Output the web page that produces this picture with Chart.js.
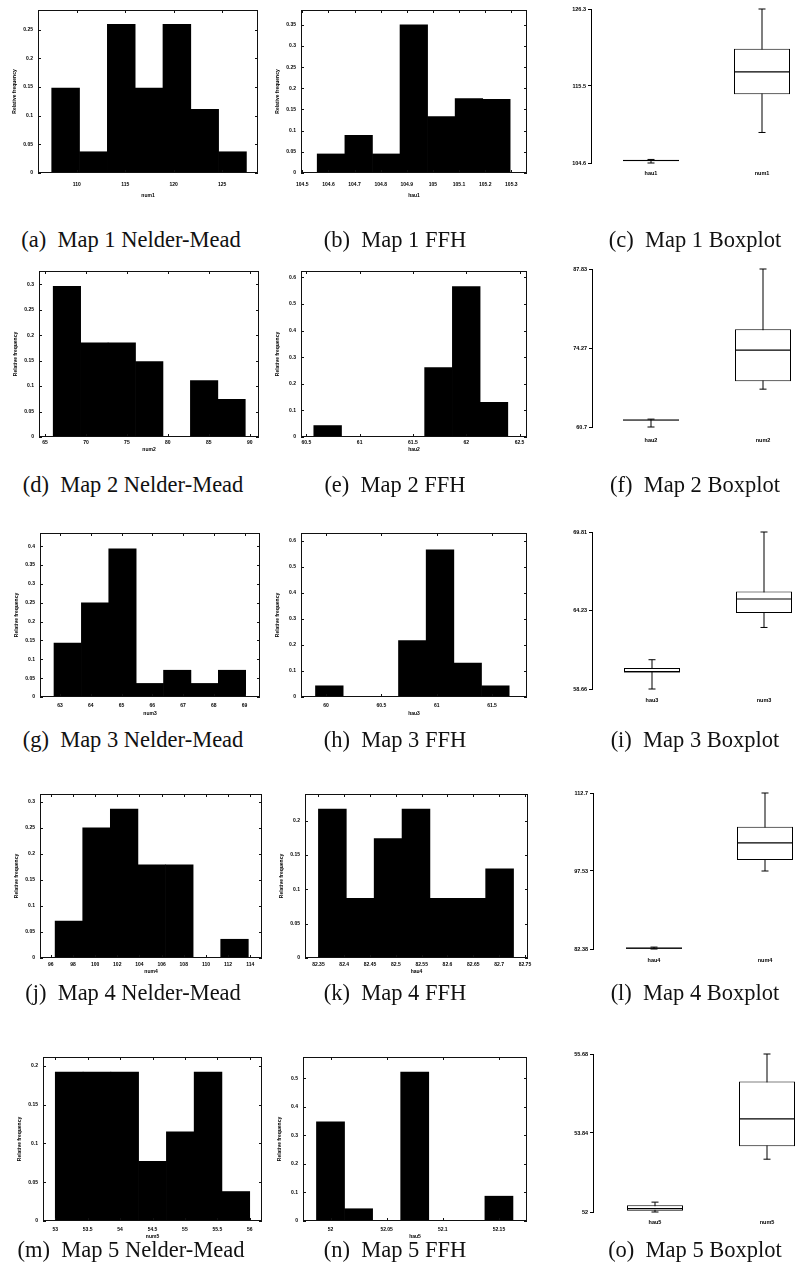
<!DOCTYPE html>
<html>
<head>
<meta charset="utf-8">
<script src="https://cdn.jsdelivr.net/npm/chart.js@4.4.1/dist/chart.umd.min.js"></script>
<style>
  html, body { margin: 0; padding: 0; background: #fff; overflow: hidden; }
  #page { position: relative; width: 795px; height: 1280px; overflow: hidden; background: #fff; }
  canvas { position: absolute; }
  .cap { position: absolute; width: 300px; text-align: center; font: 22.5px "Liberation Serif", "Times New Roman", serif; color: #111; white-space: pre; line-height: 24px; }
</style>
</head>
<body>
<div id="page"></div>
<script>
// ---------- values ----------

// (a) Map 1 Nelder-Mead
const nm1Bins = [108.85, 111.72, 114.59, 117.46, 120.33, 123.20, 126.07];
const nm1Freq = [0.148, 0.037, 0.259, 0.148, 0.259, 0.111, 0.037];
const nm1XTicks = [110, 115, 120, 125];
const nm1YTicks = [0, 0.05, 0.1, 0.15, 0.2, 0.25];
// (b) Map 1 FFH
const hau1Bins = [104.610, 104.716, 104.821, 104.927, 105.032, 105.138, 105.243];
const hau1Freq = [0.045, 0.089, 0.045, 0.35, 0.133, 0.176, 0.174];
const hau1XTicks = [104.5, 104.6, 104.7, 104.8, 104.9, 105, 105.1, 105.2, 105.3];
const hau1YTicks = [0, 0.05, 0.1, 0.15, 0.2, 0.25, 0.3, 0.35];
// (c) Map 1 Boxplot
const box1Names = ['hau1', 'num1'];
const box1Min = [104.6, 108.9];
const box1Q1 = [104.85, 114.3];
const box1Med = [104.95, 117.45];
const box1Q3 = [105.05, 120.7];
const box1Max = [105.1, 126.3];
const box1YTicks = [104.6, 115.45, 126.3];
const box1YLabels = ['104.6', '115.5', '126.3'];

// (d) Map 2 Nelder-Mead
const nm2Bins = [67.68, 71.03, 74.38, 77.73, 81.08, 84.43, 87.78];
const nm2Freq = [0.296, 0.185, 0.185, 0.148, 0, 0.111, 0.074];
const nm2XTicks = [65, 70, 75, 80, 85, 90];
const nm2YTicks = [0, 0.05, 0.1, 0.15, 0.2, 0.25, 0.3];
// (e) Map 2 FFH
const hau2Bins = [60.70, 60.96, 61.22, 61.48, 61.74, 62.00, 62.26];
const hau2Freq = [0.043, 0, 0, 0, 0.261, 0.565, 0.130];
const hau2XTicks = [60.5, 61, 61.5, 62, 62.5];
const hau2YTicks = [0, 0.1, 0.2, 0.3, 0.4, 0.5, 0.6];
// (f) Map 2 Boxplot
const box2Names = ['hau2', 'num2'];
const box2Min = [60.7, 67.2];
const box2Q1 = [61.8, 68.55];
const box2Med = [61.9, 73.9];
const box2Q3 = [61.95, 77.5];
const box2Max = [62.05, 87.83];
const box2YTicks = [60.7, 74.265, 87.83];
const box2YLabels = ['60.7', '74.27', '87.83'];

// (g) Map 3 Nelder-Mead
const nm3Bins = [63.25, 64.14, 65.03, 65.92, 66.81, 67.70, 68.59];
const nm3Freq = [0.143, 0.25, 0.393, 0.036, 0.071, 0.036, 0.071];
const nm3XTicks = [63, 64, 65, 66, 67, 68, 69];
const nm3YTicks = [0, 0.05, 0.1, 0.15, 0.2, 0.25, 0.3, 0.35, 0.4];
// (h) Map 3 FFH
const hau3Bins = [60.03, 60.28, 60.53, 60.78, 61.03, 61.28, 61.53];
const hau3Freq = [0.043, 0, 0, 0.217, 0.565, 0.130, 0.043];
const hau3XTicks = [60, 60.5, 61, 61.5];
const hau3YTicks = [0, 0.1, 0.2, 0.3, 0.4, 0.5, 0.6];
// (i) Map 3 Boxplot
const box3Names = ['hau3', 'num3'];
const box3Min = [58.66, 63.03];
const box3Q1 = [59.84, 64.06];
const box3Med = [59.9, 65.05];
const box3Q3 = [60.15, 65.59];
const box3Max = [60.74, 69.81];
const box3YTicks = [58.66, 64.235, 69.81];
const box3YLabels = ['58.66', '64.23', '69.81'];

// (j) Map 4 Nelder-Mead
const nm4Bins = [97.64, 100.13, 102.62, 105.11, 107.60, 110.09, 112.58];
const nm4Freq = [0.071, 0.25, 0.286, 0.179, 0.179, 0, 0.036];
const nm4XTicks = [96, 98, 100, 102, 104, 106, 108, 110, 112, 114];
const nm4YTicks = [0, 0.05, 0.1, 0.15, 0.2, 0.25, 0.3];
// (k) Map 4 FFH
const hau4Bins = [82.377, 82.431, 82.485, 82.539, 82.593, 82.647, 82.701];
const hau4Freq = [0.217, 0.087, 0.174, 0.217, 0.087, 0.087, 0.130];
const hau4XTicks = [82.35, 82.4, 82.45, 82.5, 82.55, 82.6, 82.65, 82.7, 82.75];
const hau4YTicks = [0, 0.05, 0.1, 0.15, 0.2];
// (l) Map 4 Boxplot
const box4Names = ['hau4', 'num4'];
const box4Min = [82.38, 97.54];
const box4Q1 = [82.45, 99.67];
const box4Med = [82.55, 103.02];
const box4Q3 = [82.62, 106.12];
const box4Max = [82.75, 112.7];
const box4YTicks = [82.38, 97.54, 112.7];
const box4YLabels = ['82.38', '97.53', '112.7'];

// (m) Map 5 Nelder-Mead
const nm5Bins = [53.214, 53.643, 54.071, 54.5, 54.929, 55.357, 55.786];
const nm5Freq = [0.192, 0.192, 0.192, 0.077, 0.115, 0.192, 0.038];
const nm5XTicks = [53, 53.5, 54, 54.5, 55, 55.5, 56];
const nm5YTicks = [0, 0.05, 0.1, 0.15, 0.2];
// (n) Map 5 FFH
const hau5Bins = [52.0, 52.025, 52.05, 52.075, 52.1, 52.125, 52.15];
const hau5Freq = [0.348, 0.043, 0, 0.522, 0, 0, 0.087];
const hau5XTicks = [52, 52.05, 52.1, 52.15];
const hau5YTicks = [0, 0.1, 0.2, 0.3, 0.4, 0.5];
// (o) Map 5 Boxplot
const box5Names = ['hau5', 'num5'];
const box5Min = [52.0, 53.23];
const box5Q1 = [52.03, 53.53];
const box5Med = [52.08, 54.17];
const box5Q3 = [52.16, 55.04];
const box5Max = [52.23, 55.68];
const box5YTicks = [52, 53.84, 55.68];
const box5YLabels = ['52', '53.84', '55.68'];

// ---------- panel layout (frame = plot box in page pixels) ----------
const hists = [
  { frame: [38, 10, 258, 173], x: [106, 128.7], yMax: 0.284, bins: nm1Bins, freq: nm1Freq, xTicks: nm1XTicks, yTicks: nm1YTicks, xTitle: 'num1', gap: [12, 23] },
  { frame: [301, 10, 527, 173], x: [104.495, 105.36], yMax: 0.385, bins: hau1Bins, freq: hau1Freq, xTicks: hau1XTicks, yTicks: hau1YTicks, xTitle: 'hau1', gap: [12, 23] },
  { frame: [39, 271, 259, 437], x: [64.27, 91.13], yMax: 0.326, bins: nm2Bins, freq: nm2Freq, xTicks: nm2XTicks, yTicks: nm2YTicks, xTitle: 'num2', gap: [6, 13] },
  { frame: [301, 271, 527, 437], x: [60.45, 62.57], yMax: 0.624, bins: hau2Bins, freq: hau2Freq, xTicks: hau2XTicks, yTicks: hau2YTicks, xTitle: 'hau2', gap: [6, 13] },
  { frame: [40, 533, 260, 697], x: [62.35, 69.5], yMax: 0.435, bins: nm3Bins, freq: nm3Freq, xTicks: nm3XTicks, yTicks: nm3YTicks, xTitle: 'num3', gap: [9, 17] },
  { frame: [301, 533, 527, 697], x: [59.774, 61.816], yMax: 0.63, bins: hau3Bins, freq: hau3Freq, xTicks: hau3XTicks, yTicks: hau3YTicks, xTitle: 'hau3', gap: [9, 17] },
  { frame: [40, 794, 262, 958], x: [95.03, 115.06], yMax: 0.315, bins: nm4Bins, freq: nm4Freq, xTicks: nm4XTicks, yTicks: nm4YTicks, xTitle: 'num4', gap: [7, 14] },
  { frame: [305, 794, 528, 958], x: [82.324, 82.756], yMax: 0.239, bins: hau4Bins, freq: hau4Freq, xTicks: hau4XTicks, yTicks: hau4YTicks, xTitle: 'hau4', gap: [7, 14] },
  { frame: [43, 1057, 262, 1221], x: [52.81, 56.19], yMax: 0.2115, bins: nm5Bins, freq: nm5Freq, xTicks: nm5XTicks, yTicks: nm5YTicks, xTitle: 'num5', gap: [9, 16] },
  { frame: [303, 1057, 527, 1221], x: [51.9755, 52.175], yMax: 0.575, bins: hau5Bins, freq: hau5Freq, xTicks: hau5XTicks, yTicks: hau5YTicks, xTitle: 'hau5', gap: [9, 16] },
];

const boxes = [
  { axisX: 591, top: 9, bottom: 163, hauX: 651, numX: 762, gap: 10, names: box1Names, min: box1Min, q1: box1Q1, med: box1Med, q3: box1Q3, max: box1Max, yTicks: box1YTicks, yLabels: box1YLabels },
  { axisX: 592, top: 269, bottom: 427, hauX: 651, numX: 763, gap: 13, names: box2Names, min: box2Min, q1: box2Q1, med: box2Med, q3: box2Q3, max: box2Max, yTicks: box2YTicks, yLabels: box2YLabels },
  { axisX: 592, top: 532, bottom: 689, hauX: 652, numX: 764, gap: 11, names: box3Names, min: box3Min, q1: box3Q1, med: box3Med, q3: box3Q3, max: box3Max, yTicks: box3YTicks, yLabels: box3YLabels },
  { axisX: 593, top: 793, bottom: 949, hauX: 654, numX: 765, gap: 11, names: box4Names, min: box4Min, q1: box4Q1, med: box4Med, q3: box4Q3, max: box4Max, yTicks: box4YTicks, yLabels: box4YLabels },
  { axisX: 593, top: 1054, bottom: 1212, hauX: 655, numX: 767, gap: 10, names: box5Names, min: box5Min, q1: box5Q1, med: box5Med, q3: box5Q3, max: box5Max, yTicks: box5YTicks, yLabels: box5YLabels },
];

const captions = [
  ['(a)  Map 1 Nelder-Mead', 131, 240], ['(b)  Map 1 FFH', 395, 240], ['(c)  Map 1 Boxplot', 695, 240],
  ['(d)  Map 2 Nelder-Mead', 133, 485], ['(e)  Map 2 FFH', 395, 485], ['(f)  Map 2 Boxplot', 695, 485],
  ['(g)  Map 3 Nelder-Mead', 133, 740], ['(h)  Map 3 FFH', 395, 740], ['(i)  Map 3 Boxplot', 695, 740],
  ['(j)  Map 4 Nelder-Mead', 133, 993], ['(k)  Map 4 FFH', 395, 993], ['(l)  Map 4 Boxplot', 695, 993],
  ['(m)  Map 5 Nelder-Mead', 131, 1250], ['(n)  Map 5 FFH', 395, 1250], ['(o)  Map 5 Boxplot', 695, 1250],
];

// ---------- drawing ----------
const page = document.getElementById('page');
const tickFont = { family: '"Liberation Sans", Arial, sans-serif', size: 5, weight: 'bold' };
const boxFont = { family: '"Liberation Sans", Arial, sans-serif', size: 5.5, weight: 'bold' };

function addCanvas(left, top, width, height) {
  const c = document.createElement('canvas');
  c.width = width;
  c.height = height;
  c.style.left = left + 'px';
  c.style.top = top + 'px';
  c.style.width = width + 'px';
  c.style.height = height + 'px';
  page.appendChild(c);
  return c;
}

// gnuplot style box with inward ticks on all four sides
const frameTicks = {
  id: 'frameTicks',
  afterDatasetsDraw(chart) {
    const { ctx, chartArea: a, scales } = chart;
    ctx.save();
    ctx.strokeStyle = '#111';
    ctx.lineWidth = 1;
    ctx.strokeRect(a.left + 0.5, a.top + 0.5, a.right - a.left - 1, a.bottom - a.top - 1);
    ctx.beginPath();
    scales.x.ticks.forEach(t => {
      const px = Math.round(scales.x.getPixelForValue(t.value)) + 0.5;
      ctx.moveTo(px, a.top); ctx.lineTo(px, a.top + 3);
      ctx.moveTo(px, a.bottom); ctx.lineTo(px, a.bottom - 3);
    });
    scales.y.ticks.forEach(t => {
      const py = Math.round(scales.y.getPixelForValue(t.value)) + 0.5;
      ctx.moveTo(a.left, py); ctx.lineTo(a.left + 3, py);
      ctx.moveTo(a.right, py); ctx.lineTo(a.right - 3, py);
    });
    ctx.stroke();
    ctx.restore();
  }
};

function histogram(p) {
  const yw = 32, xh = 30, padTop = 4, padRight = 14;
  const [l, t, r, b] = p.frame;
  const canvas = addCanvas(l - yw, t - padTop, r - l + yw + padRight, b - t + padTop + xh);
  new Chart(canvas, {
    type: 'bar',
    data: {
      datasets: [{
        data: p.bins.map((x, i) => ({ x, y: p.freq[i] })),
        backgroundColor: '#000',
        borderWidth: 0,
        barThickness: 'flex',
        barPercentage: 1,
        categoryPercentage: 1,
      }],
    },
    options: {
      responsive: false,
      animation: false,
      layout: { autoPadding: false, padding: { top: padTop, right: padRight, left: 0, bottom: 0 } },
      plugins: { legend: { display: false }, tooltip: { enabled: false } },
      scales: {
        x: {
          type: 'linear', min: p.x[0], max: p.x[1], offset: false,
          grid: { display: false, drawTicks: false }, border: { display: false },
          afterBuildTicks: s => { s.ticks = p.xTicks.map(v => ({ value: v })); },
          afterFit: s => { s.height = xh; s.paddingLeft = 0; s.paddingRight = 0; },
          ticks: { font: tickFont, color: '#000', padding: p.gap[0] - 3, maxRotation: 0, autoSkip: false, callback: v => String(v) },
          title: { display: true, text: p.xTitle, font: tickFont, color: '#000', padding: { top: 0, bottom: xh - p.gap[1] - 3 } },
        },
        y: {
          min: 0, max: p.yMax,
          grid: { display: false, drawTicks: false }, border: { display: false },
          afterBuildTicks: s => { s.ticks = p.yTicks.map(v => ({ value: v })); },
          afterFit: s => { s.width = yw; s.paddingTop = 0; s.paddingBottom = 0; },
          ticks: { font: tickFont, color: '#000', padding: 5, autoSkip: false, callback: v => String(v) },
          title: { display: true, text: 'Relative frequency', font: tickFont, color: '#000', padding: { top: 6, bottom: 0 } },
        },
      },
    },
    plugins: [frameTicks],
  });
}

function boxplot(p) {
  const yw = 40, xh = 18, padTop = 8, areaW = 230;
  const ppu = p.numX - p.hauX;
  const xMin = 1 - (p.hauX - p.axisX) / ppu;
  const xMax = xMin + areaW / ppu;
  const pos = [1, 2];
  const pts = arr => arr.map((v, i) => ({ x: pos[i], y: v }));
  const canvas = addCanvas(p.axisX - yw, p.top - padTop, yw + areaW, padTop + (p.bottom - p.top) + xh);
  new Chart(canvas, {
    type: 'bar',
    data: {
      datasets: [
        { // whiskers
          type: 'bar', order: 3, grouped: false, clip: false,
          data: pos.map((x, i) => ({ x, y: [p.min[i], p.max[i]] })),
          backgroundColor: '#000', borderWidth: 0, barThickness: 1, inflateAmount: 0,
        },
        { // boxes
          type: 'bar', order: 2, grouped: false, clip: false,
          data: pos.map((x, i) => ({ x, y: [p.q1[i], p.q3[i]] })),
          backgroundColor: '#fff', borderColor: '#000', borderWidth: 1, borderSkipped: false,
          barThickness: 56, inflateAmount: 0,
        },
        { // medians
          type: 'line', order: 1, showLine: false, clip: false,
          data: pts(p.med),
          pointStyle: 'line', pointRadius: 28, pointBorderColor: '#000', pointBorderWidth: 1.2,
        },
        { // whisker caps
          type: 'line', order: 1, showLine: false, clip: false,
          data: [...pts(p.min), ...pts(p.max)],
          pointStyle: 'line', pointRadius: 3.5, pointBorderColor: '#000', pointBorderWidth: 1,
        },
      ],
    },
    options: {
      responsive: false,
      animation: false,
      layout: { autoPadding: false, padding: { top: padTop, right: 0, left: 0, bottom: 0 } },
      plugins: { legend: { display: false }, tooltip: { enabled: false } },
      scales: {
        x: {
          type: 'linear', min: xMin, max: xMax, offset: false,
          grid: { display: false, drawTicks: false }, border: { display: false },
          afterBuildTicks: s => { s.ticks = pos.map(v => ({ value: v })); },
          afterFit: s => { s.height = xh; s.paddingLeft = 0; s.paddingRight = 0; },
          ticks: { font: boxFont, color: '#000', padding: p.gap - 3, maxRotation: 0, autoSkip: false, callback: (v, i) => p.names[i] },
        },
        y: {
          min: p.yTicks[0], max: p.yTicks[p.yTicks.length - 1],
          grid: { display: true, drawOnChartArea: false, drawTicks: true, tickLength: 3, color: '#000' },
          border: { display: true, color: '#000', width: 1 },
          afterBuildTicks: s => { s.ticks = p.yTicks.map(v => ({ value: v })); },
          afterFit: s => { s.width = yw; s.paddingTop = 0; s.paddingBottom = 0; },
          ticks: { font: boxFont, color: '#000', padding: 2, autoSkip: false, callback: (v, i) => p.yLabels[i] },
        },
      },
    },
  });
}

hists.forEach(histogram);
boxes.forEach(boxplot);

captions.forEach(([text, cx, cy]) => {
  const d = document.createElement('div');
  d.className = 'cap';
  d.textContent = text;
  d.style.left = (cx - 150) + 'px';
  d.style.top = (cy - 12) + 'px';
  page.appendChild(d);
});
</script>
</body>
</html>
